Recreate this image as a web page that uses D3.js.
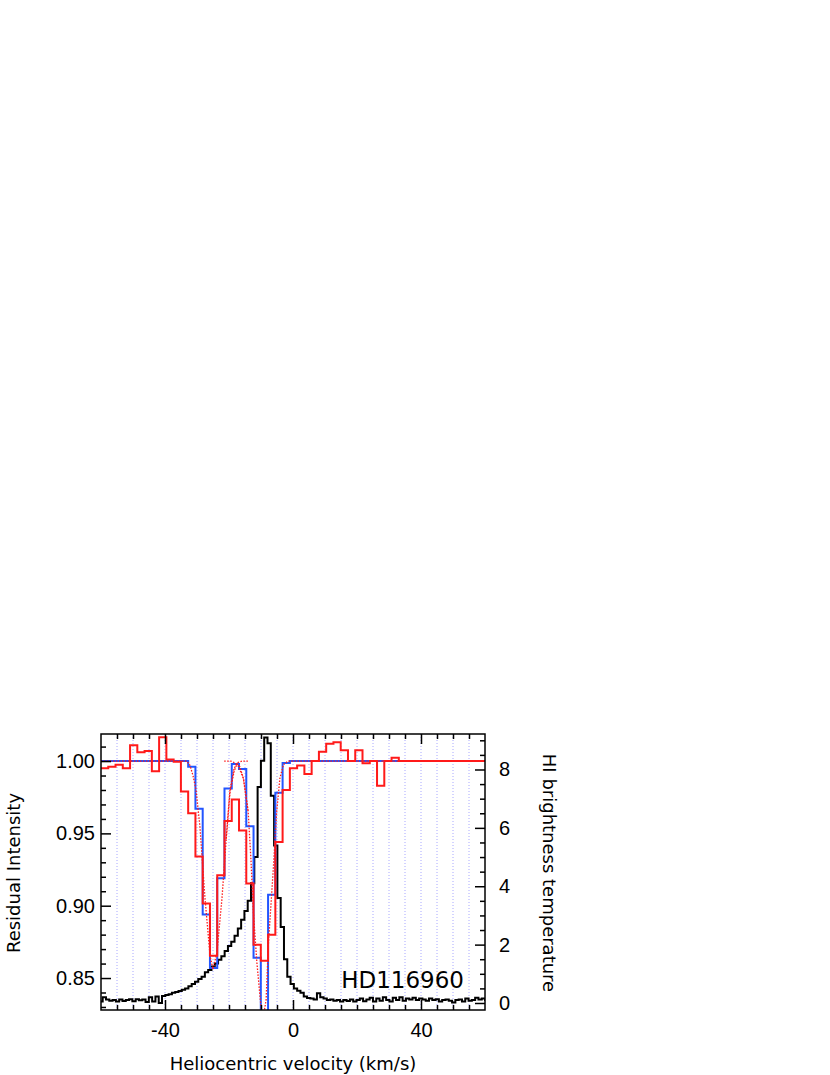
<!DOCTYPE html>
<html>
<head>
<meta charset="utf-8">
<script src="https://cdn.jsdelivr.net/npm/d3@7/dist/d3.min.js"></script>
<style>
  body { margin: 0; background: #fff; }
  svg { display: block; font-family: "DejaVu Sans", Verdana, sans-serif; }
</style>
</head>
<body>
<div id="chart"></div>
<script>
// observed spectrum (red) and convolved fit (blue), bins of ~2.27 km/s starting at -60
var specStart = -60, specStep = 2.27;
var observed = [0.995, 0.996, 0.9975, 0.995, 1.011, 1.006, 1.007, 0.993, 1.0165, 1.001,
    0.9995, 0.979, 0.964, 0.934, 0.9016, 0.8654, 0.921, 0.9585, 0.9735, 0.952,
    0.9154, 0.873, 0.862, 0.88, 0.944, 0.980, 0.995, 0.997, 0.991, 1.0,
    1.0065, 1.012, 1.013, 1.0075, 1.0, 1.0075, 0.9985, 1.0, 0.983, 1.0,
    1.0023, 1.0, 1.0, 1.0, 1.0, 1.0, 1.0, 1.0, 1.0, 1.0, 1.0, 1.0, 1.0, 1.0];
var fitted = [1.0, 1.0, 1.0, 1.0, 1.0, 1.0, 1.0, 1.0, 1.0, 1.0,
    1.0, 1.0, 0.996, 0.967, 0.894, 0.857, 0.919, 0.981, 0.998, 0.9945,
    0.955, 0.864, 0.826, 0.9075, 0.978, 0.9986, 1.0, 1.0, 1.0, 1.0,
    1.0, 1.0, 1.0, 1.0, 1.0, 1.0, 1.0, 1.0, 1.0, 1.0,
    1.0, 1.0, 1.0, 1.0, 1.0, 1.0, 1.0, 1.0, 1.0, 1.0, 1.0, 1.0, 1.0, 1.0];

// intrinsic model (dotted) : [velocity, intensity]
var modelTotal = [[-60, 1.0], [-33.2, 1.0], [-32.2, 0.997], [-31.25, 0.99], [-30.3, 0.98], [-29.1, 0.955],
    [-27.5, 0.905], [-25.9, 0.865], [-25.0, 0.856], [-23.75, 0.868], [-22.2, 0.905],
    [-20.9, 0.945], [-19.7, 0.978], [-18.4, 0.993], [-17.5, 0.998], [-16.6, 0.996],
    [-15.5, 0.988], [-14.0, 0.965], [-13.1, 0.93], [-12.4, 0.896], [-11.3, 0.861],
    [-10.0, 0.83], [-9.2, 0.824], [-8.4, 0.835], [-7.7, 0.873], [-6.2, 0.924],
    [-5.1, 0.965], [-4.1, 0.988], [-3.0, 0.9975], [-1.5, 1.0], [60, 1.0]];
var compA = [[-20.9, 0.946], [-19.7, 0.98], [-18.4, 0.995], [-17.2, 0.999], [-15.8, 1.0], [-14, 1.0]];
var compB = [[-21.5, 1.0], [-19.5, 1.0], [-18.4, 0.999], [-17.2, 0.997], [-15.5, 0.988], [-14, 0.965]];

// HI brightness temperature (black), bins of 1.03 km/s starting at -60.5
var hiStart = -60.5, hiStep = 1.03;
var hiTemp = [0.05, 0.2, 0.12, 0.08, 0.1, 0.05, 0.12, 0.07, 0.1, 0.13,
    0.06, 0.13, 0.09, 0.12, 0.03, 0.2, 0.05, 0.22, 0.0, 0.24,
    0.27, 0.3, 0.35, 0.38, 0.41, 0.45, 0.5, 0.57, 0.65, 0.73,
    0.82, 0.9, 1.05, 1.13, 1.25, 1.35, 1.48, 1.6, 1.78, 1.95,
    2.1, 2.3, 2.55, 2.85, 3.15, 3.5, 4.1,
    5.0, 7.4, 8.3, 9.1, 8.9, 7.1, 5.4, 3.6, 2.6, 1.5, 0.9, 0.65, 0.5, 0.42,
    0.35, 0.22, 0.17, 0.15, 0.12, 0.33, 0.2, 0.15, 0.1, 0.12,
    0.08, 0.1, 0.05, 0.1, 0.07, 0.12, 0.05, 0.1, 0.15, 0.06,
    0.12, 0.18, 0.05, 0.15, 0.08, 0.2, 0.1, 0.05, 0.18, 0.1,
    0.2, 0.08, 0.15, 0.12, 0.18, 0.1, 0.15, 0.12, 0.08, 0.15,
    0.1, 0.13, 0.05, 0.1, 0.12, 0.08, 0.02, 0.1, 0.12, 0.05,
    0.15, 0.08, 0.1, 0.18, 0.12, 0.15, 0.1];

var xTicks = [-40, 0, 40];
var leftTicks = [0.85, 0.90, 0.95, 1.00];
var rightTicks = [0, 2, 4, 6, 8];
var starName = "HD116960";

var W = 830, H = 1075;
var plotLeft = 101, plotRight = 485, plotTop = 734, plotBottom = 1010;

var svg = d3.select("#chart").append("svg")
    .attr("width", W)
    .attr("height", H);

var x = d3.scaleLinear().domain([-60, 60]).range([plotLeft, plotRight]);
var yL = d3.scaleLinear().domain([0.8279, 1.0187]).range([plotBottom, plotTop]);
var yR = d3.scaleLinear().domain([-0.24, 9.216]).range([plotBottom, plotTop]);

svg.append("clipPath").attr("id", "plotclip")
    .append("rect")
    .attr("x", plotLeft).attr("y", plotTop)
    .attr("width", plotRight - plotLeft).attr("height", plotBottom - plotTop);

// dotted velocity grid every 5 km/s
svg.append("g").selectAll("line")
    .data(d3.range(-55, 60, 5))
    .enter().append("line")
    .attr("x1", function (d) { return x(d); })
    .attr("x2", function (d) { return x(d); })
    .attr("y1", plotTop).attr("y2", plotBottom)
    .attr("stroke", "#a8a8ff")
    .attr("stroke-width", 1)
    .attr("stroke-dasharray", "1,2");

// turn binned values into step points
function steps(start, step, vals) {
    var pts = vals.map(function (v, i) { return [start + i * step, v]; });
    pts.push([start + vals.length * step, vals[vals.length - 1]]);
    return pts;
}

var plot = svg.append("g").attr("clip-path", "url(#plotclip)");

var stepL = d3.line()
    .x(function (d) { return x(d[0]); })
    .y(function (d) { return yL(d[1]); })
    .curve(d3.curveStepAfter);
var stepR = d3.line()
    .x(function (d) { return x(d[0]); })
    .y(function (d) { return yR(d[1]); })
    .curve(d3.curveStepAfter);
var lineL = d3.line()
    .x(function (d) { return x(d[0]); })
    .y(function (d) { return yL(d[1]); });

plot.append("path")
    .datum(steps(hiStart, hiStep, hiTemp))
    .attr("d", stepR)
    .attr("fill", "none")
    .attr("stroke", "#000")
    .attr("stroke-width", 2);

plot.append("path")
    .datum(steps(specStart, specStep, fitted))
    .attr("d", stepL)
    .attr("fill", "none")
    .attr("stroke", "#2255ff")
    .attr("stroke-width", 2);

plot.append("path")
    .datum(steps(specStart, specStep, observed))
    .attr("d", stepL)
    .attr("fill", "none")
    .attr("stroke", "#ff1a1a")
    .attr("stroke-width", 2);

[modelTotal, compA, compB].forEach(function (pts) {
    plot.append("path")
        .datum(pts)
        .attr("d", lineL)
        .attr("fill", "none")
        .attr("stroke", "#ff1a1a")
        .attr("stroke-width", 1.3)
        .attr("stroke-dasharray", "1.5,1.5");
});

// axes, ticks pointing inward
var fontSize = 18, tickFont = 20;
function styleAxis(g) {
    g.select(".domain").remove();
    g.selectAll("line").attr("stroke", "#000").attr("stroke-width", 1.5);
    g.selectAll("text").attr("fill", "#000").style("font-size", tickFont + "px");
}

var minorX = d3.range(-55, 60, 5).filter(function (d) { return xTicks.indexOf(d) < 0; });

svg.append("g")
    .attr("transform", "translate(0," + plotBottom + ")")
    .call(d3.axisBottom(x).tickValues(minorX).tickSize(-5).tickFormat(""))
    .call(styleAxis);
svg.append("g")
    .attr("transform", "translate(0," + plotBottom + ")")
    .call(d3.axisBottom(x).tickValues(xTicks).tickSize(-10).tickPadding(13)
        .tickFormat(function (d) { return String(d); }))
    .call(styleAxis);
svg.append("g")
    .attr("transform", "translate(0," + plotTop + ")")
    .call(d3.axisTop(x).tickValues(minorX).tickSize(-5).tickFormat(""))
    .call(styleAxis);
svg.append("g")
    .attr("transform", "translate(0," + plotTop + ")")
    .call(d3.axisTop(x).tickValues(xTicks).tickSize(-10).tickFormat(""))
    .call(styleAxis);

var minorL = d3.range(83, 102).map(function (d) { return d / 100; })
    .filter(function (d) { return Math.round(d * 100) % 5 !== 0; });
svg.append("g")
    .attr("transform", "translate(" + plotLeft + ",0)")
    .call(d3.axisLeft(yL).tickValues(minorL).tickSize(-5).tickFormat(""))
    .call(styleAxis);
svg.append("g")
    .attr("transform", "translate(" + plotLeft + ",0)")
    .call(d3.axisLeft(yL).tickValues(leftTicks).tickSize(-10).tickPadding(6)
        .tickFormat(d3.format(".2f")))
    .call(styleAxis);

var minorR = d3.range(0, 9.1, 0.5).filter(function (d) { return d % 2 !== 0; });
svg.append("g")
    .attr("transform", "translate(" + plotRight + ",0)")
    .call(d3.axisRight(yR).tickValues(minorR).tickSize(-5).tickFormat(""))
    .call(styleAxis);
svg.append("g")
    .attr("transform", "translate(" + plotRight + ",0)")
    .call(d3.axisRight(yR).tickValues(rightTicks).tickSize(-10).tickPadding(14)
        .tickFormat(function (d) { return String(d); }))
    .call(styleAxis);

// frame
svg.append("rect")
    .attr("x", plotLeft).attr("y", plotTop)
    .attr("width", plotRight - plotLeft).attr("height", plotBottom - plotTop)
    .attr("fill", "none")
    .attr("stroke", "#000")
    .attr("stroke-width", 1.5);

// titles
svg.append("text")
    .attr("x", (plotLeft + plotRight) / 2)
    .attr("y", 1070)
    .attr("text-anchor", "middle")
    .style("font-size", fontSize + "px")
    .text("Heliocentric velocity (km/s)");

svg.append("text")
    .attr("transform", "translate(20," + 873 + ") rotate(-90)")
    .attr("text-anchor", "middle")
    .style("font-size", fontSize + "px")
    .text("Residual Intensity");

svg.append("text")
    .attr("transform", "translate(543," + 873 + ") rotate(90)")
    .attr("text-anchor", "middle")
    .style("font-size", fontSize + "px")
    .text("HI brightness temperature");

svg.append("text")
    .attr("x", 464)
    .attr("y", 988)
    .attr("text-anchor", "end")
    .style("font-size", "23px")
    .text(starName);
</script>
</body>
</html>
